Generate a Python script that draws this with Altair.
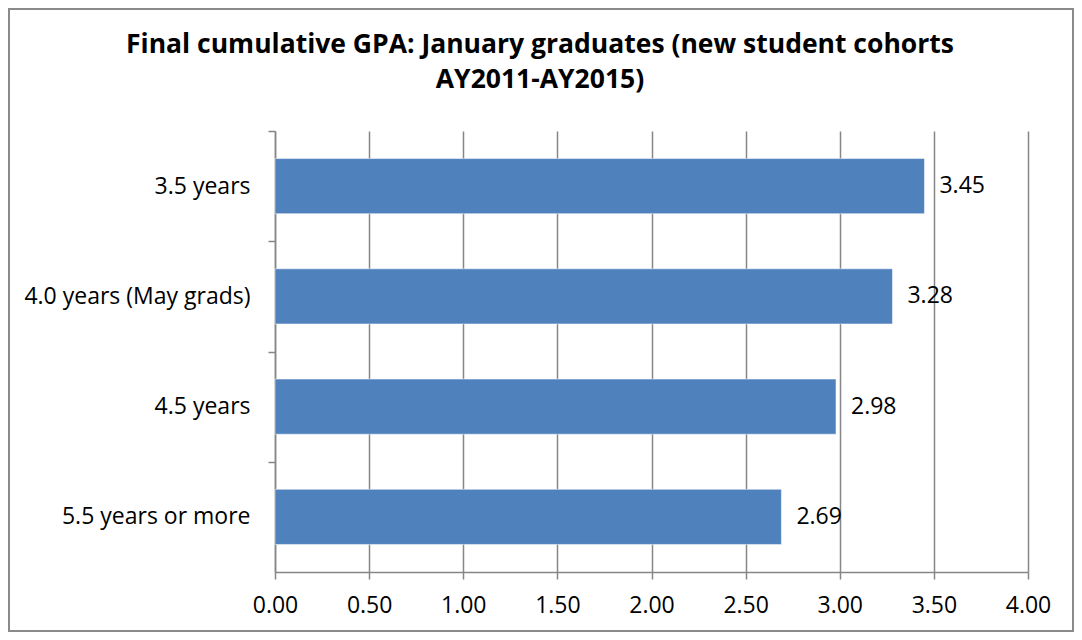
import altair as alt
import pandas as pd

categories = ["3.5 years", "4.0 years (May grads)", "4.5 years", "5.5 years or more"]
gpa = [3.45, 3.28, 2.98, 2.69]
title_lines = ["Final cumulative GPA: January graduates (new student cohorts", "AY2011-AY2015)"]

df = pd.DataFrame({"cat": categories, "gpa": gpa})
tdf = pd.DataFrame({"t": title_lines, "i": [0, 1]})

W, H = 753, 441
PL, PT, PR, PB = 267, 123, 46, 60
FONT = "Open Sans"

x_enc = alt.X("gpa:Q",
              scale=alt.Scale(domain=[0, 4], nice=False),
              axis=alt.Axis(values=[0, 0.5, 1, 1.5, 2, 2.5, 3, 3.5, 4], format=".2f",
                            title=None, grid=True, gridColor="#868686", gridWidth=1.5,
                            domainColor="#868686", domainWidth=1.5, tickColor="#868686",
                            tickWidth=1.5, tickSize=7, labelFontSize=23, labelColor="#000000",
                            labelFont=FONT, labelPadding=15, labelFlush=False,
                            labelOverlap=False))
y_enc = alt.Y("cat:N", sort=categories,
              scale=alt.Scale(paddingInner=0.5, paddingOuter=0.25),
              axis=alt.Axis(title=None, domainColor="#868686", domainWidth=1.5,
                            tickColor="#868686", tickWidth=1.5, tickSize=7,
                            tickOffset=-55, labelOffset=55, labelFontSize=23,
                            labelColor="#000000", labelFont=FONT, labelPadding=18,
                            labelLimit=400))

bars = alt.Chart(df).mark_bar(color="#4F81BD", stroke="#ffffff", strokeWidth=0.5).encode(x=x_enc, y=y_enc)
labels = alt.Chart(df).mark_text(align="left", baseline="middle", dx=15, fontSize=23,
                                 font=FONT, color="#000000").encode(
    x="gpa:Q", y=alt.Y("cat:N", sort=categories), text=alt.Text("gpa:Q", format=".2f"))

frame = alt.Chart(df).mark_rect(filled=False, stroke="#8a8a8a", strokeWidth=2, clip=False).encode(
    x=alt.value(-PL + 1), x2=alt.value(W + PR - 1),
    y=alt.value(-PT + 1), y2=alt.value(H + PB - 1))

title1 = alt.Chart(tdf).transform_filter("datum.i == 0").mark_text(
    align="center", baseline="alphabetic", fontSize=26.5, fontWeight="bold", font=FONT,
    color="#000000").encode(x=alt.value(265), y=alt.value(-78), text="t:N")
title2 = alt.Chart(tdf).transform_filter("datum.i == 1").mark_text(
    align="center", baseline="alphabetic", fontSize=26.5, fontWeight="bold", font=FONT,
    color="#000000").encode(x=alt.value(265), y=alt.value(-43), text="t:N")

chart = alt.layer(frame, bars, labels, title1, title2).properties(
    width=W, height=H,
    autosize=alt.AutoSizeParams(type="none"),
    padding={"left": PL, "top": PT, "right": PR, "bottom": PB},
).configure_view(stroke=None)

chart.save("out.html", embed_options={"renderer": "svg", "actions": False})
